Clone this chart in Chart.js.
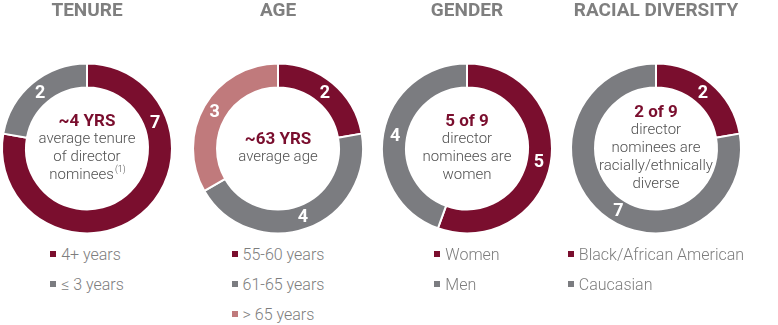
<!DOCTYPE html>
<html>
<head>
<meta charset="utf-8">
<script src="https://cdn.jsdelivr.net/npm/chart.js@4"></script>
<style>
  html, body { margin: 0; padding: 0; background: #fff; }
  body { width: 778px; height: 325px; position: relative; overflow: hidden; font-family: Roboto, 'Noto Sans', sans-serif; }
  .panel { position: absolute; top: 0; width: 190px; }
  .panel canvas { display: block; }
  .legend { position: absolute; top: 243px; left: 0; width: 100%; display: flex; justify-content: center; }
  .legend ul { list-style: none; margin: 0; padding: 0; }
  .legend li { height: 30px; line-height: 24px; font-size: 16px; font-weight: 300; color: #7d7d7d; white-space: nowrap; }
  .legend .box { display: inline-block; width: 6px; height: 6px; margin-right: 5px; vertical-align: 3px; }
</style>
</head>
<body>

<div class="panel" id="p-tenure" style="left:-8px"><canvas id="tenure"></canvas><div class="legend" id="lg-tenure"></div></div>
<div class="panel" id="p-age" style="left:183px"><canvas id="age"></canvas><div class="legend" id="lg-age"></div></div>
<div class="panel" id="p-gender" style="left:372px"><canvas id="gender"></canvas><div class="legend" id="lg-gender"></div></div>
<div class="panel" id="p-race" style="left:561px"><canvas id="race"></canvas><div class="legend" id="lg-race"></div></div>

<script>
const RED = '#7a0e2e';
const GREY = '#7b7c80';
const PINK = '#c07a7c';

// tenure
const tenureLabels = ['4+ years', '≤ 3 years'];
const tenureValues = [7, 2];
const tenureCenter = ['~4 YRS', 'average tenure', 'of director', 'nominees'];

// age
const ageLabels = ['55-60 years', '61-65 years', '> 65 years'];
const ageValues = [2, 4, 3];
const ageCenter = ['~63 YRS', 'average age'];

// gender
const genderLabels = ['Women', 'Men'];
const genderValues = [5, 4];
const genderCenter = ['5 of 9', 'director', 'nominees are', 'women'];

// racial diversity
const raceLabels = ['Black/African American', 'Caucasian'];
const raceValues = [2, 7];
const raceCenter = ['2 of 9', 'director', 'nominees are', 'racially/ethnically', 'diverse'];

// white numbers sitting in the ring
const ringNumbers = {
  id: 'ringNumbers',
  afterDatasetsDraw(chart, args, opts) {
    const ctx = chart.ctx;
    const meta = chart.getDatasetMeta(0);
    const angles = opts.angles || [];
    ctx.save();
    ctx.fillStyle = '#fff';
    ctx.font = 'bold 18px Roboto';
    ctx.textAlign = 'center';
    ctx.textBaseline = 'middle';
    meta.data.forEach((arc, i) => {
      const p = arc.getProps(['x', 'y', 'startAngle', 'endAngle', 'innerRadius', 'outerRadius'], true);
      let a = (p.startAngle + p.endAngle) / 2;
      if (angles[i] != null) a = (angles[i] - 90) * Math.PI / 180;
      const r = (p.innerRadius + p.outerRadius) / 2;
      ctx.fillText(String(chart.data.datasets[0].data[i]), p.x + Math.cos(a) * r, p.y + Math.sin(a) * r + 1);
    });
    ctx.restore();
  }
};

// headline plus description in the hole
const centerText = {
  id: 'centerText',
  afterDraw(chart, args, opts) {
    const lines = opts.lines || [];
    if (!lines.length) return;
    const ctx = chart.ctx;
    const arc = chart.getDatasetMeta(0).data[0];
    const cx = arc.x, cy = arc.y;
    const lh = 17.8;
    const top = cy - (lines.length - 1) * lh / 2 + (opts.shift || 0);
    const body = '300 15px Roboto';
    ctx.save();
    ctx.textAlign = 'center';
    ctx.textBaseline = 'middle';
    lines.forEach((t, i) => {
      const y = top + i * lh;
      if (i === 0) {
        ctx.font = 'bold 17px Roboto';
        ctx.fillStyle = RED;
      } else {
        ctx.font = body;
        ctx.fillStyle = '#505050';
      }
      if (opts.sup && i === lines.length - 1) {
        const w = ctx.measureText(t).width;
        ctx.font = '300 9px Roboto';
        const sw = ctx.measureText(opts.sup).width;
        ctx.font = body;
        const x0 = cx - (w + sw) / 2;
        ctx.textAlign = 'left';
        ctx.fillText(t, x0, y);
        ctx.font = '300 9px Roboto';
        ctx.fillText(opts.sup, x0 + w + 1, y - 5);
        ctx.textAlign = 'center';
      } else {
        ctx.fillText(t, cx, y);
      }
    });
    ctx.restore();
  }
};

function makeDonut(id, title, labels, values, colors, center, extra) {
  const chart = new Chart(document.getElementById(id), {
    type: 'doughnut',
    data: {
      labels,
      datasets: [{
        data: values,
        backgroundColor: colors,
        borderColor: '#fff',
        borderWidth: 2,
        radius: 85,
        cutout: 65
      }]
    },
    options: {
      responsive: false,
      animation: false,
      events: [],
      layout: { padding: 0 },
      plugins: {
        legend: { display: false },
        tooltip: { enabled: false },
        title: {
          display: true,
          text: title,
          color: '#7f7f7f',
          font: { family: 'Roboto', size: 19, weight: 'bold' },
          padding: { top: 0, bottom: 34 }
        },
        centerText: Object.assign({ lines: center }, extra.center || {}),
        ringNumbers: { angles: extra.angles || [] }
      }
    },
    plugins: [ringNumbers, centerText]
  });

  // html legend, one entry per row
  const items = chart.options.plugins.legend.labels.generateLabels(chart);
  const ul = document.createElement('ul');
  items.forEach(it => {
    const li = document.createElement('li');
    const box = document.createElement('span');
    box.className = 'box';
    box.style.background = it.fillStyle;
    li.appendChild(box);
    li.appendChild(document.createTextNode(it.text));
    ul.appendChild(li);
  });
  document.getElementById('lg-' + id).appendChild(ul);
  return chart;
}

for (const c of document.querySelectorAll('canvas')) { c.width = 190; c.height = 240; }

makeDonut('tenure', 'TENURE', tenureLabels, tenureValues, [RED, GREY], tenureCenter,
  { angles: [69, null], center: { sup: '(1)' } });
makeDonut('age', 'AGE', ageLabels, ageValues, [RED, GREY, PINK], ageCenter, {});
makeDonut('gender', 'GENDER', genderLabels, genderValues, [RED, GREY], genderCenter, {});
makeDonut('race', 'RACIAL DIVERSITY', raceLabels, raceValues, [RED, GREY], raceCenter,
  { angles: [null, 211] });
</script>
</body>
</html>
